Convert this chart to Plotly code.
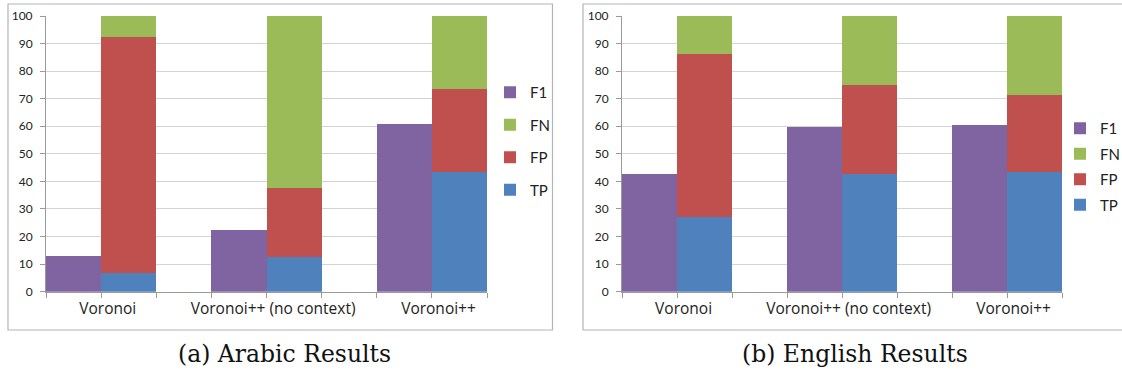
import plotly.graph_objects as go

categories = ["Voronoi", "Voronoi++ (no context)", "Voronoi++"]

# Arabic results
ar_f1 = [13.1, 22.4, 60.7]
ar_tp = [6.9, 12.6, 43.5]
ar_fp = [85.5, 25.0, 30.0]
ar_fn = [7.6, 62.4, 26.5]

# English results
en_f1 = [42.6, 59.8, 60.6]
en_tp = [27.1, 42.8, 43.4]
en_fp = [59.0, 32.1, 27.9]
en_fn = [13.9, 25.1, 28.7]

captions = ["(a) Arabic Results", "(b) English Results"]

C_F1 = "#8064A2"
C_FN = "#9BBB59"
C_FP = "#C0504D"
C_TP = "#4F81BD"

W, H = 1122, 374
FONT = "Lato"

fig = go.Figure()

n = len(categories)
x_f1 = [i * 3 + 0.5 for i in range(n)]
x_st = [i * 3 + 1.5 for i in range(n)]
x_lab = [i * 3 + 1.12 for i in range(n)]

panels = [
    (ar_f1, ar_tp, ar_fp, ar_fn, "x", "y", "legend"),
    (en_f1, en_tp, en_fp, en_fn, "x2", "y2", "legend2"),
]

for f1, tp, fp, fn, xa, ya, lg in panels:
    common = dict(xaxis=xa, yaxis=ya, legend=lg, width=1.0,
                  marker_line_width=0, hoverinfo="y")
    fig.add_trace(go.Bar(x=x_f1, y=f1, name="F1", marker_color=C_F1,
                         legendrank=1, legendgroup=lg + "f1", **common))
    fig.add_trace(go.Bar(x=x_st, y=tp, name="TP", marker_color=C_TP,
                         legendrank=4, legendgroup=lg + "tp", **common))
    fig.add_trace(go.Bar(x=x_st, y=fp, name="FP", marker_color=C_FP,
                         legendrank=3, legendgroup=lg + "fp", **common))
    fig.add_trace(go.Bar(x=x_st, y=fn, name="FN", marker_color=C_FN,
                         legendrank=2, legendgroup=lg + "fn", **common))

ydom = [1 - 291.7 / H, 1 - 16 / H]
xdom1 = [46 / W, 487 / W]
xdom2 = [622 / W, 1062 / W]

xcommon = dict(
    range=[0, 8], tickmode="array", tickvals=x_lab, ticktext=categories,
    ticks="", showgrid=False, zeroline=False, showline=True,
    linecolor="#9a9a9a", linewidth=1, automargin=False,
    tickfont=dict(family="Open Sans", size=15.5, color="#222"),
    minor=dict(tickmode="array", tickvals=list(range(9)), ticks="outside",
               ticklen=5, tickcolor="#9a9a9a", showgrid=False),
    ticklabelstandoff=3, fixedrange=True,
)
ycommon = dict(
    range=[0, 100], dtick=10, tick0=0, ticks="outside", ticklen=5,
    tickcolor="#9a9a9a", showgrid=True, gridcolor="#d4d4d4", gridwidth=1,
    zeroline=False, showline=True, linecolor="#9a9a9a", linewidth=1,
    tickfont=dict(family=FONT, size=12, color="#222"), automargin=False,
    ticklabelstandoff=5, domain=ydom, fixedrange=True,
)

fig.update_layout(
    width=W, height=H, barmode="stack", bargap=0,
    margin=dict(l=0, r=0, t=0, b=0, pad=0, autoexpand=False),
    paper_bgcolor="white", plot_bgcolor="white",
    xaxis=dict(domain=xdom1, anchor="y", **xcommon),
    yaxis=dict(anchor="x", **ycommon),
    xaxis2=dict(domain=xdom2, anchor="y2", **xcommon),
    yaxis2=dict(anchor="x2", **ycommon),
    legend=dict(x=490 / W, y=1 - 76 / H, xanchor="left", yanchor="top",
                traceorder="grouped", tracegroupgap=10,
                font=dict(family=FONT, size=15, color="#222"),
                itemwidth=30, bgcolor="rgba(0,0,0,0)"),
    legend2=dict(x=1060 / W, y=1 - 112 / H, xanchor="left", yanchor="top",
                 traceorder="grouped", tracegroupgap=3,
                 font=dict(family=FONT, size=15, color="#222"),
                 itemwidth=30, bgcolor="rgba(0,0,0,0)"),
    showlegend=True,
)

# panel frames
fig.add_shape(type="rect", xref="paper", yref="paper",
              x0=8 / W, x1=552.5 / W, y0=1 - 330 / H, y1=1 - 4 / H,
              line=dict(color="#b4b4b4", width=1.2), layer="below")
fig.add_shape(type="rect", xref="paper", yref="paper",
              x0=583 / W, x1=1130 / W, y0=1 - 330 / H, y1=1 - 4 / H,
              line=dict(color="#b4b4b4", width=1.2), layer="below")

for cx, txt in zip([284, 855], captions):
    fig.add_annotation(xref="paper", yref="paper", x=cx / W, y=1 - 354 / H,
                       text=txt, showarrow=False, xanchor="center",
                       yanchor="middle",
                       font=dict(family="DejaVu Serif", size=23.5, color="#111"))

fig.write_html("out.html",
               config={"displayModeBar": False},
               post_script="document.body.style.margin='0px';"
                           "document.body.style.overflow='hidden';")
